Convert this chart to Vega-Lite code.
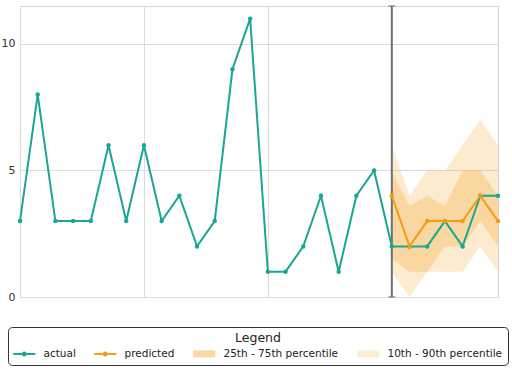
{
  "$schema": "https://vega.github.io/schema/vega-lite/v6.json",
  "width": 478,
  "height": 291,
  "autosize": {"type": "none"},
  "padding": {"left": 20, "top": 6, "right": 14, "bottom": 73},
  "config": {
    "font": "DejaVu Sans",
    "view": {"stroke": "#d4d4d4", "strokeWidth": 1}
  },
  "datasets": {
    "series": [
      {"t": 0, "actual": 3},
      {"t": 1, "actual": 8},
      {"t": 2, "actual": 3},
      {"t": 3, "actual": 3},
      {"t": 4, "actual": 3},
      {"t": 5, "actual": 6},
      {"t": 6, "actual": 3},
      {"t": 7, "actual": 6},
      {"t": 8, "actual": 3},
      {"t": 9, "actual": 4},
      {"t": 10, "actual": 2},
      {"t": 11, "actual": 3},
      {"t": 12, "actual": 9},
      {"t": 13, "actual": 11},
      {"t": 14, "actual": 1},
      {"t": 15, "actual": 1},
      {"t": 16, "actual": 2},
      {"t": 17, "actual": 4},
      {"t": 18, "actual": 1},
      {"t": 19, "actual": 4},
      {"t": 20, "actual": 5},
      {"t": 21, "actual": 2, "predicted": 4, "q10": 1, "q25": 1.5, "q75": 5, "q90": 6},
      {"t": 22, "actual": 2, "predicted": 2, "q10": 0, "q25": 1, "q75": 3.6, "q90": 4},
      {"t": 23, "actual": 2, "predicted": 3, "q10": 1, "q25": 1, "q75": 4, "q90": 5},
      {"t": 24, "actual": 3, "predicted": 3, "q10": 1, "q25": 2, "q75": 3.6, "q90": 5},
      {"t": 25, "actual": 2, "predicted": 3, "q10": 1, "q25": 2, "q75": 5, "q90": 6},
      {"t": 26, "actual": 4, "predicted": 4, "q10": 2, "q25": 3, "q75": 5, "q90": 7},
      {"t": 27, "actual": 4, "predicted": 3, "q10": 1, "q25": 2, "q75": 4, "q90": 6}
    ],
    "cutoff": [{"t": 21, "edge": 0}, {"t": 21, "edge": 11.5}],
    "legendRows": [
      {"series": "actual", "t": -10},
      {"series": "predicted", "t": -10},
      {"series": "25th - 75th percentile", "t": -10},
      {"series": "10th - 90th percentile", "t": -10}
    ]
  },
  "encoding": {
    "x": {
      "field": "t",
      "type": "quantitative",
      "title": null,
      "scale": {"domain": [0, 27], "nice": false, "zero": false},
      "axis": {
        "title": null,
        "labels": false,
        "ticks": false,
        "domain": false,
        "values": [0, 7, 14, 21],
        "gridColor": "#dcdcdc",
        "gridWidth": 1
      }
    }
  },
  "layer": [
    {
      "data": {"name": "series"},
      "mark": {"type": "area", "color": "#f39c12", "opacity": 0.2},
      "encoding": {
        "y": {
          "field": "q10",
          "type": "quantitative",
          "title": null,
          "scale": {"domain": [0, 11.5], "nice": false},
          "axis": {
            "title": null,
            "values": [0, 5, 10],
            "ticks": false,
            "domain": false,
            "labelPadding": 5,
            "labelFontSize": 11,
            "labelColor": "#333333",
            "gridColor": "#dcdcdc",
            "gridWidth": 1
          }
        },
        "y2": {"field": "q90"}
      }
    },
    {
      "data": {"name": "series"},
      "mark": {"type": "area", "color": "#f39c12", "opacity": 0.25},
      "encoding": {
        "y": {"field": "q25", "type": "quantitative", "title": null},
        "y2": {"field": "q75"}
      }
    },
    {
      "data": {"name": "cutoff"},
      "mark": {"type": "rule", "color": "#707070", "strokeWidth": 2},
      "encoding": {
        "y": {"field": "edge", "type": "quantitative", "title": null, "aggregate": "min"},
        "y2": {"field": "edge", "aggregate": "max"}
      }
    },
    {
      "data": {"name": "cutoff"},
      "mark": {"type": "tick", "orient": "horizontal", "color": "#707070", "size": 7, "thickness": 1.5},
      "encoding": {
        "y": {"field": "edge", "type": "quantitative", "title": null}
      }
    },
    {
      "data": {"name": "series"},
      "mark": {
        "type": "line",
        "color": "#19a795",
        "strokeWidth": 2,
        "point": {"filled": true, "size": 20, "color": "#19a795"}
      },
      "encoding": {
        "y": {"field": "actual", "type": "quantitative", "title": null}
      }
    },
    {
      "data": {"name": "series"},
      "mark": {
        "type": "line",
        "color": "#f39c12",
        "strokeWidth": 2,
        "point": {"filled": true, "size": 20, "color": "#f39c12"}
      },
      "encoding": {
        "y": {"field": "predicted", "type": "quantitative", "title": null}
      }
    },
    {
      "data": {"name": "legendRows"},
      "mark": {"type": "point", "filled": true, "clip": true, "opacity": 1},
      "encoding": {
        "y": {"datum": 5, "type": "quantitative"},
        "color": {
          "field": "series",
          "type": "nominal",
          "scale": {
            "domain": ["actual", "predicted", "25th - 75th percentile", "10th - 90th percentile"],
            "range": ["#19a795", "#f39c12", "#fbd7a1", "#fdebd3"]
          },
          "legend": {
            "title": "Legend",
            "orient": "none",
            "legendX": -12,
            "legendY": 321,
            "direction": "horizontal",
            "columns": 4,
            "titleAnchor": "middle",
            "titleFontSize": 12.5,
            "titleFontWeight": "normal",
            "titleColor": "#222222",
            "titlePadding": 4,
            "labelFontSize": 10.5,
            "labelColor": "#222222",
            "labelOffset": 20,
            "columnPadding": 18,
            "symbolSize": 100,
            "symbolOpacity": 1,
            "symbolStrokeWidth": 0,
            "padding": 5,
            "strokeColor": "#333333",
            "cornerRadius": 4,
            "fillColor": "#ffffff"
          }
        },
        "shape": {
          "field": "series",
          "type": "nominal",
          "scale": {
            "domain": ["actual", "predicted", "25th - 75th percentile", "10th - 90th percentile"],
            "range": [
              "M-1,-0.2H0.7V0.2H-1Z M1.7,-0.2H3.4V0.2H1.7Z M0.7,0 A0.5,0.5 0 1,1 1.7,0 A0.5,0.5 0 1,1 0.7,0Z",
              "M-1,-0.2H0.7V0.2H-1Z M1.7,-0.2H3.4V0.2H1.7Z M0.7,0 A0.5,0.5 0 1,1 1.7,0 A0.5,0.5 0 1,1 0.7,0Z",
              "M-1,-0.7H3.4V0.7H-1Z",
              "M-1,-0.7H3.4V0.7H-1Z"
            ]
          }
        }
      }
    }
  ]
}
